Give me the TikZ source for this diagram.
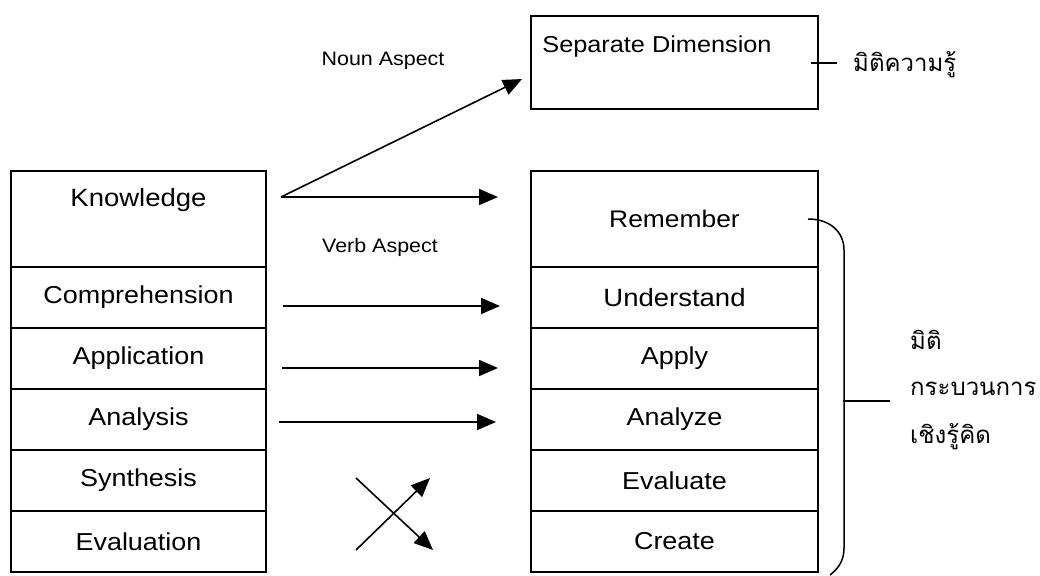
\documentclass[tikz,border=0pt]{standalone}
\usepackage{fontspec}
\setmainfont{Liberation Sans}[FakeStretch=1.1]
\newfontfamily\thaifont[Script=Thai]{Loma}
\usetikzlibrary{arrows.meta}

\begin{document}
\begin{tikzpicture}[x=1pt,y=-1pt,
  cell/.style={draw,line width=2pt,inner sep=0pt,outer sep=0pt},
  leftcell/.style={cell,minimum width=255pt,minimum height=61pt},
  rightcell/.style={cell,minimum width=287pt,minimum height=61pt},
  lbl/.style={font=\fontsize{24}{28}\selectfont,inner sep=0pt},
  aspect/.style={font=\fontsize{19.5}{23}\selectfont,inner sep=0pt},
  thai/.style={font=\thaifont\fontsize{24}{28}\selectfont,anchor=base west,inner sep=0pt},
  link/.style={line width=1.6pt,-{Triangle[length=19pt,width=16pt]}},
  brace/.style={line width=1.5pt},
  tick/.style={line width=1.4pt}
]
\useasboundingbox (0,0) rectangle (1040,575);

% old taxonomy (left column)
\node[leftcell,minimum height=96pt] (know) at (138.5,219) {};
\node[lbl] (knowtxt) at (138.5,200) {\fontsize{25}{28}\selectfont Knowledge};
\node[leftcell] (comp)  at (138.5,297.5) {\fontsize{24.5}{28}\selectfont Comprehension};
\node[leftcell] (appl)  at (138.5,358.5) {\fontsize{24.5}{28}\selectfont Application};
\node[leftcell] (anal)  at (138.5,419.5) {\fontsize{24.5}{28}\selectfont Analysis};
\node[leftcell] (synth) at (138.5,480.5) {\fontsize{24.5}{28}\selectfont Synthesis};
\node[leftcell] (eval)  at (138.5,541.5) {\fontsize{24.5}{28}\selectfont Evaluation};

% revised taxonomy (right column)
\node[cell,minimum width=287pt,minimum height=93pt] (sep) at (674.5,62.5) {};
\node[lbl] (septxt) at (657,47) {\fontsize{23}{28}\selectfont Separate Dimension};
\node[rightcell,minimum height=96pt] (rem) at (674.5,219) {\fontsize{24}{28}\selectfont Remember};
\node[rightcell] (und)  at (674.5,297.5) {\fontsize{25}{28}\selectfont Understand};
\node[rightcell] (app)  at (674.5,358.5) {\fontsize{24.5}{28}\selectfont Apply};
\node[rightcell] (ana)  at (674.5,419.5) {\fontsize{24.5}{28}\selectfont Analyze};
\node[rightcell] (eva)  at (674.5,480.5) {\fontsize{24.5}{28}\selectfont Evaluate};
\node[rightcell] (cre)  at (674.5,541.5) {\fontsize{24.5}{28}\selectfont Create};

% aspect labels
\node[aspect] (noun) at (383,61) {Noun Aspect};
\node[aspect] (verb) at (380,247) {Verb Aspect};

% arrows between the columns
\coordinate (ks) at (281,197);
\coordinate (ke) at (498,197);
\coordinate (kn) at (522,79);
\draw[link] (ks) -- (kn);
\draw[link] (ks) -- (ke);
\coordinate (cs) at (283,306);  \coordinate (ce) at (500,306);
\coordinate (as) at (282,368);  \coordinate (ae) at (498,368);
\coordinate (ns) at (279,422);  \coordinate (ne) at (496,422);
\draw[link] (cs) -- (ce);
\draw[link] (as) -- (ae);
\draw[link] (ns) -- (ne);

% crossed arrows for synthesis / evaluation
\coordinate (xa) at (356,478); \coordinate (xb) at (433,550);
\coordinate (xc) at (356,550); \coordinate (xd) at (430,478);
\draw[link] (xa) -- (xb);
\draw[link] (xc) -- (xd);

% knowledge dimension label
\coordinate (t1a) at (811,63); \coordinate (t1b) at (837,63);
\draw[tick] (t1a) -- (t1b);
\node[thai] (kdim) at (853,72) {มิติความรู้};

% bracket for the cognitive process dimension
\coordinate (b1) at (808,219);
\coordinate (b2) at (844,250);
\coordinate (b3) at (844,548);
\coordinate (b4) at (830,575);
\draw[brace] (b1) .. controls (830,219) and (844,232) .. (b2) -- (b3)
  .. controls (844,560) and (839,568) .. (b4);
\coordinate (t2a) at (843,401); \coordinate (t2b) at (890,401);
\draw[tick] (t2a) -- (t2b);
\node[thai] (cdim1) at (910,349) {มิติ};
\node[thai] (cdim2) at (910,395) {กระบวนการ};
\node[thai] (cdim3) at (910,443) {เชิงรู้คิด};
\end{tikzpicture}
\end{document}
